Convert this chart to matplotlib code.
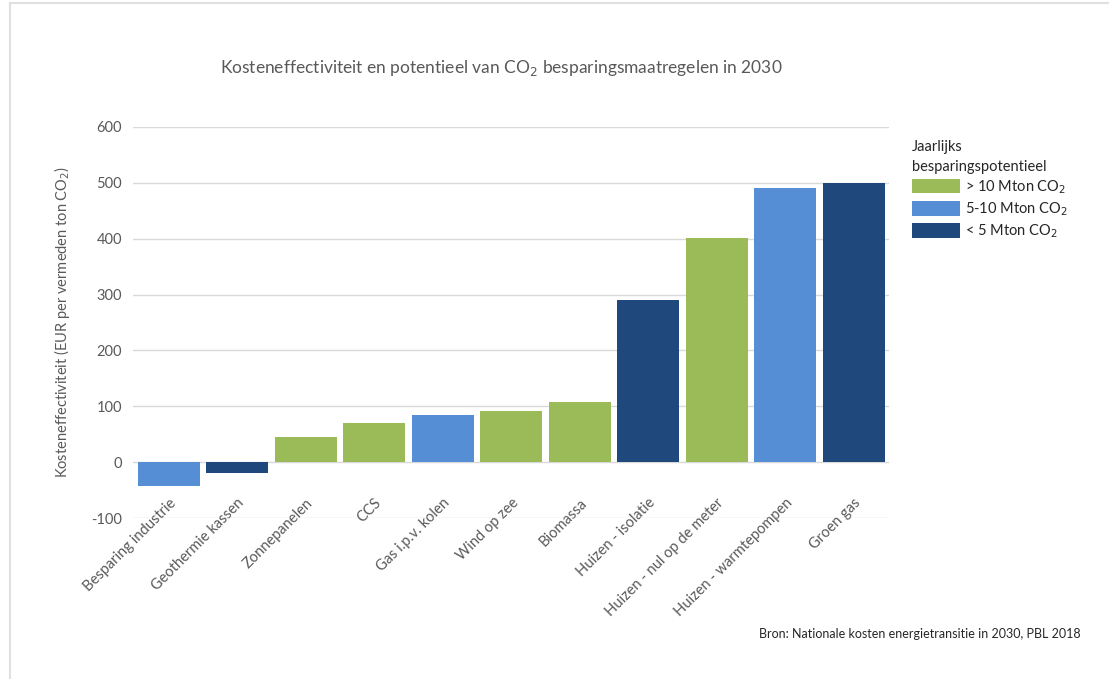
import matplotlib.pyplot as plt
from matplotlib.patches import Patch
from matplotlib.lines import Line2D

# Data
categories = ['Besparing industrie', 'Geothermie kassen', 'Zonnepanelen', 'CCS',
              'Gas i.p.v. kolen', 'Wind op zee', 'Biomassa', 'Huizen - isolatie',
              'Huizen - nul op de meter', 'Huizen - warmtepompen', 'Groen gas']
kosten = [-43, -20, 45, 70, 84, 91, 107, 290, 401, 490, 500]
# potentieel class: 0 = > 10 Mton, 1 = 5-10 Mton, 2 = < 5 Mton
klasse = [1, 2, 0, 0, 1, 0, 0, 2, 0, 1, 2]
klasse_labels = ['> 10 Mton CO$_2$', '5-10 Mton CO$_2$', '< 5 Mton CO$_2$']
yticks = [-100, 0, 100, 200, 300, 400, 500, 600]

colors = ['#9BBB59', '#558ED5', '#1F497D']
text_color = '#595959'

plt.rcParams['font.family'] = ['Lato', 'DejaVu Sans']

fig = plt.figure(figsize=(11.09, 6.79), dpi=100)
ax = fig.add_axes([0.12, 0.237, 0.682, 0.576])

x = range(len(categories))
ax.bar(x, kosten, width=0.9, color=[colors[k] for k in klasse], zorder=3)

ax.set_xlim(-0.52, len(categories) - 0.48)
ax.set_ylim(-100, 600)
ax.set_yticks(yticks)
ax.set_yticklabels([str(v) for v in yticks], fontsize=10.5, color=text_color)
ax.set_xticks(list(x))
ax.set_xticklabels(categories, rotation=45, ha='right', rotation_mode='anchor',
                   fontsize=10.5, color=text_color)
ax.tick_params(axis='y', length=0, pad=8)
# category labels hang just below the zero line, like in Excel
ax.tick_params(axis='x', length=0, pad=-16)
for lbl in ax.get_xticklabels():
    lbl.set_zorder(4)
ax.grid(axis='y', color='#D9D9D9', linewidth=1, zorder=0)
for s in ax.spines.values():
    s.set_visible(False)

ax.set_ylabel('Kosteneffectiviteit (EUR per vermeden ton CO$_2$)', fontsize=10.5,
              color=text_color, labelpad=14)

fig.text(0.452, 0.9, 'Kosteneffectiviteit en potentieel van CO$_2$ besparingsmaatregelen in 2030',
         ha='center', va='center', fontsize=12.5, color=text_color)

handles = [Patch(facecolor=c) for c in colors]
leg = fig.legend(handles, klasse_labels, loc='upper left', bbox_to_anchor=(0.817, 0.802),
                 frameon=False, fontsize=10.5, title='Jaarlijks\nbesparingspotentieel',
                 title_fontsize=10.5, handlelength=3.3, handleheight=1.15,
                 handletextpad=0.35, labelspacing=0.3, borderaxespad=0)
leg._legend_box.align = 'left'
leg.get_title().set_color('#262626')
leg.get_title().set_linespacing(1.5)
for t in leg.get_texts():
    t.set_color('#262626')

fig.text(0.974, 0.067, 'Bron: Nationale kosten energietransitie in 2030, PBL 2018',
         ha='right', va='center', fontsize=9, color='#262626')

# light frame at top and left
fig.add_artist(Line2D([0.009, 1.0], [0.995, 0.995], color='#E0E0E0', lw=1.5, transform=fig.transFigure))
fig.add_artist(Line2D([0.009, 0.009], [0.0, 0.995], color='#E0E0E0', lw=1.5, transform=fig.transFigure))

fig.savefig('out.png', dpi=100)
